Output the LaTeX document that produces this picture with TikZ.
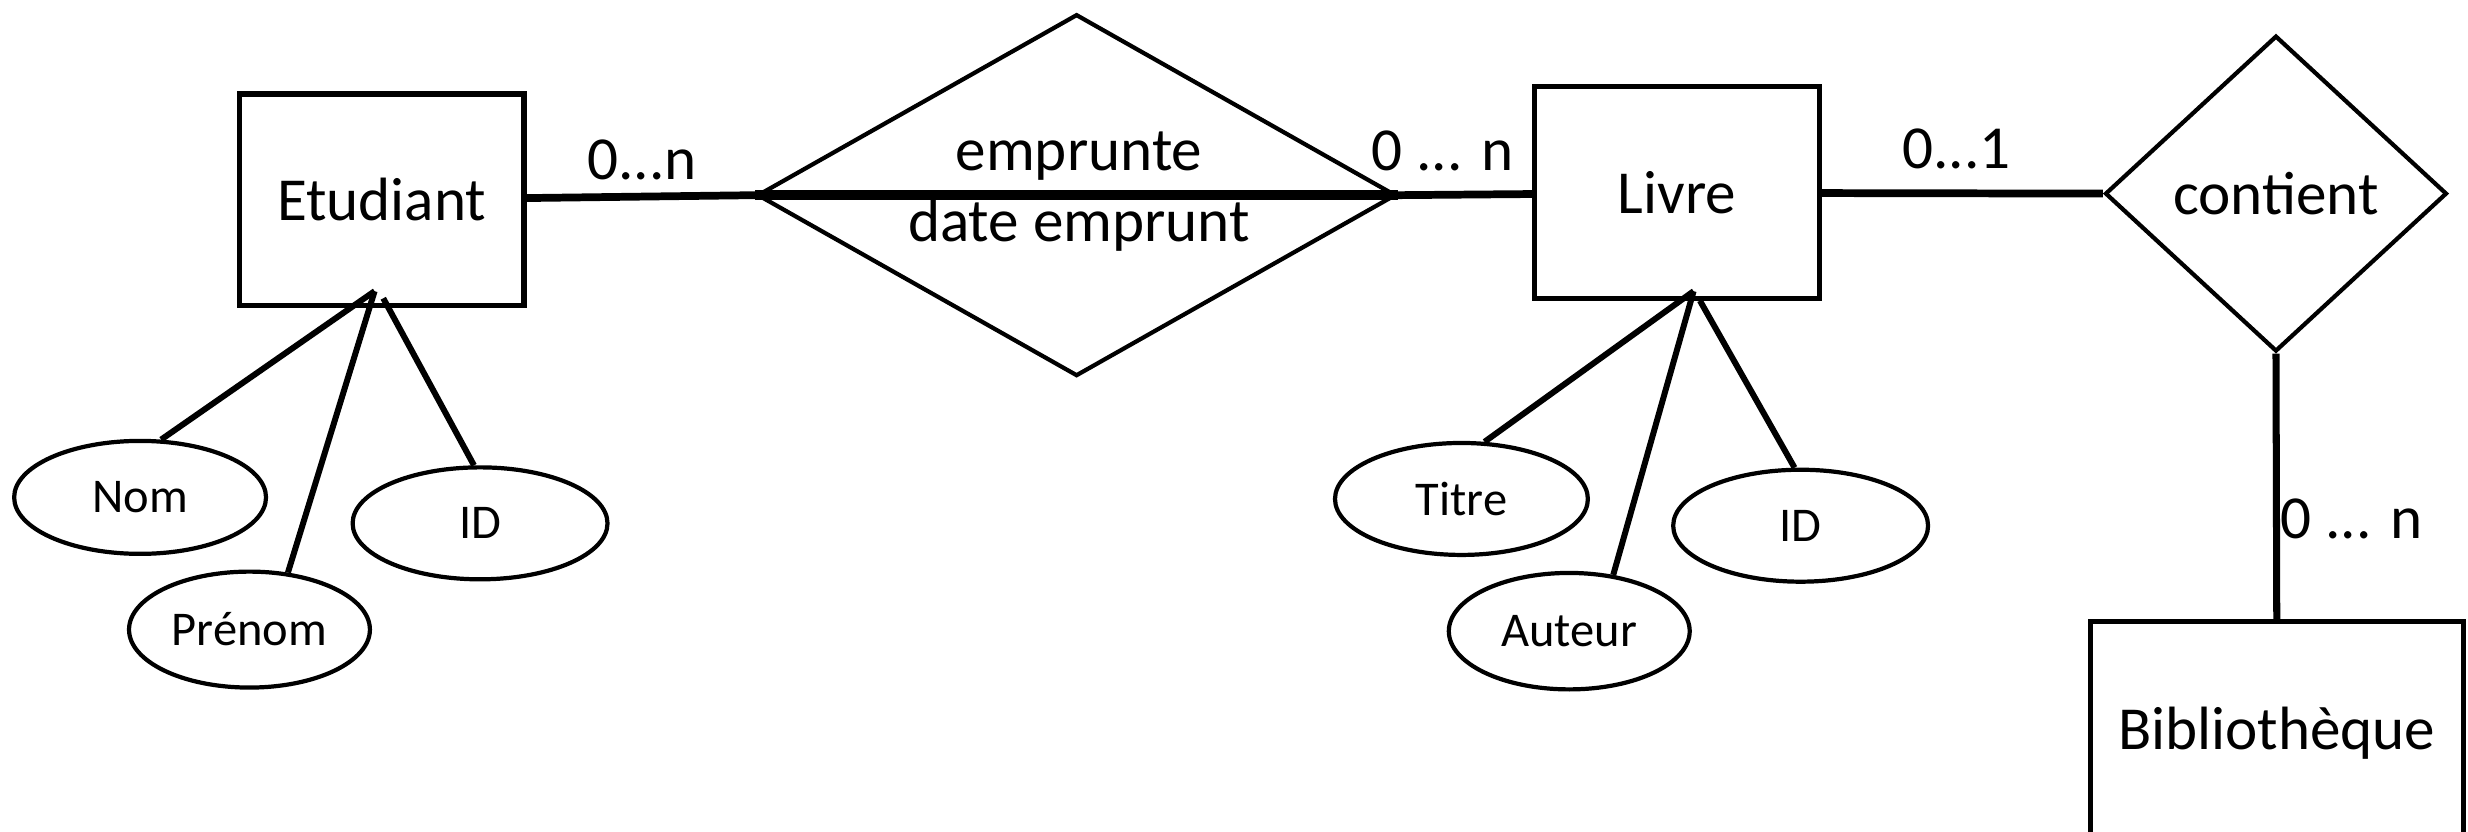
\documentclass[tikz,border=0pt]{standalone}
\usepackage{fontspec}
\setmainfont{Carlito}
\usetikzlibrary{shapes.geometric}
\begin{document}
\begin{tikzpicture}[x=0.01574cm, y=-0.01574cm,
        entnode/.style={rectangle, draw, line width=1.5pt, minimum width=2.85cm, minimum height=2.12cm, font=\fontsize{17.4}{20}\selectfont},
        attnode/.style={ellipse, draw, line width=1.2pt, inner sep=0pt, minimum width=2.52cm, minimum height=1.13cm, font=\fontsize{13.8}{16}\selectfont},
        relnode/.style={diamond, draw, line width=1.2pt, inner sep=0pt, font=\fontsize{17.4}{20}\selectfont},
        lbl/.style={anchor=base, inner sep=0pt, font=\fontsize{17.4}{20}\selectfont},
        reledge/.style={line width=2.2pt},
        attedge/.style={line width=1.7pt}
      ]
      \useasboundingbox (0, 0) rectangle (1568, 528.6);

      % left side
      \node[entnode] at (242.5, 127) (etudiant) {Etudiant};
      \node[attnode] at (89, 316) (nom) {Nom};
      \node[attnode, minimum width=2.41cm, minimum height=1.16cm] at (158.5, 400) (prenom) {Prénom};
      \node[attnode, minimum width=2.55cm, minimum height=1.12cm] at (305, 332.5) (id1) {ID};
      \coordinate (etufoot) at (238, 185);
      \coordinate (etufoot2) at (243.5, 189.5);

      % relation in the middle
      \node[relnode, minimum width=6.39cm, minimum height=3.62cm] at (684, 124) (emprunte) {};
      \node[lbl] at (685.5, 108.5) (empr-top) {emprunte};
      \node[lbl] at (685.5, 153.5) (empr-bot) {date emprunt};

      % right side
      \node[entnode] at (1065.5, 122.5) (livre) {Livre};
      \node[attnode, minimum width=2.53cm, minimum height=1.12cm] at (928.5, 317) (titre) {Titre};
      \node[attnode, minimum width=2.41cm, minimum height=1.165cm] at (997, 401) (auteur) {Auteur};
      \node[attnode, minimum width=2.55cm, minimum height=1.12cm] at (1144, 334) (id2) {ID};
      \coordinate (livfoot) at (1076, 185);
      \coordinate (livfoot2) at (1080, 191);

      \node[relnode, minimum width=3.42cm, minimum height=3.16cm] at (1446, 123) (contient) {contient};
      \node[entnode, minimum width=3.73cm, minimum height=2.24cm] at (1446.5, 466) (biblio) {Bibliothèque};

      % edges
      \draw[reledge] (etudiant) -- (emprunte.west);
      \draw[reledge, line width=2.7pt] (emprunte.west) -- (emprunte.east);
      \draw[reledge] (emprunte.east) -- (livre);
      \draw[reledge] (livre) -- (contient.west);
      \draw[reledge, line width=2pt] (contient.south) -- (biblio.north);
      \draw[attedge] (etufoot) -- (nom.70);
      \draw[attedge] (etufoot) -- (prenom.56);
      \draw[attedge] (etufoot2) -- (id1.96);
      \draw[attedge] (livfoot) -- (titre.68);
      \draw[attedge] (livfoot) -- (auteur.52);
      \draw[attedge] (livfoot2) -- (id2.96);

      % labels
      \node[lbl] at (408, 114) (card1) {0...n};
      \node[lbl] at (916.5, 108.5) (card2) {0 ... n};
      \node[lbl] at (1243, 107) (card3) {0...1};
      \node[lbl] at (1494, 342) (card4) {0 ... n};
  \end{tikzpicture}
\end{document}
